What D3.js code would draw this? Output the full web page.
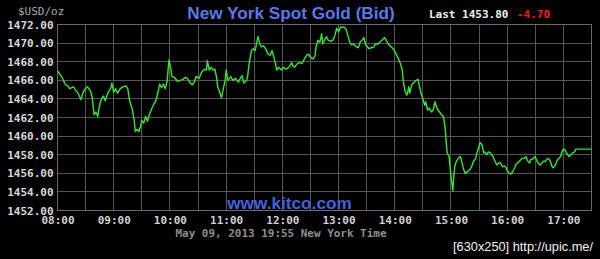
<!DOCTYPE html>
<html>
<head>
<meta charset="utf-8">
<script src="https://cdn.jsdelivr.net/npm/d3@7"></script>
<style>
  html, body { margin: 0; padding: 0; background: #000; }
  svg { display: block; }
</style>
</head>
<body>
<svg id="chart" width="600" height="259"></svg>
<script>
// ---- data: minutes after 08:00 (New York time) and bid price, USD/oz ----
const minutesFrom8 = [
  0,3,5,8,11,13,17,19,22,25,27,29,32,35,37,39,41,43,44,46,49,51,54,57,58,60,62,64,67,70,73,75,77,80,82,83,85,87,89,90,92,94,96,98,100,103,105,107,109,111,113,115,117,119,121,122,125,128,131,134,
  136,139,141,144,146,148,151,154,157,159,160,162,164,166,168,170,171,173,175,177,179,180,182,185,187,190,193,195,197,199,202,203,205,207,209,211,212,214,216,218,220,222,225,227,229,231,233,234,236,239,241,244,247,250,251,253,256,258,261,263,266,268,270,273,
  275,276,278,280,282,283,285,287,289,292,294,296,298,300,302,306,308,310,312,314,316,319,321,323,325,327,329,331,332,335,338,339,342,344,347,349,351,353,356,359,361,364,366,368,369,371,373,375,376,378,380,383,385,386,388,390,392,393,395,397,399,401,403,405,
  407,410,412,414,415,416,417,418,419,420,422,423,424,425,427,430,431,433,435,438,440,442,444,446,448,450,451,453,455,456,458,460,462,463,465,467,469,471,473,475,477,479,480,482,484,486,488,489,491,493,495,496,498,500,502,504,505,507,510,511,513,515,517,519,521,522,524,526,528,529,531,533,535,537,538,540,542,543,544,546,548,550,552,553,570
];
const prices = [
  1467.0,1466.6,1466.3,1465.6,1465.4,1465.1,1465.3,1465.0,1464.6,1463.9,1464.6,1465.0,1465.3,1464.9,1464.2,1462.3,1462.6,1462.1,1462.8,1463.8,1464.3,1463.8,1464.7,1465.2,1465.7,1464.7,1465.1,1464.6,1465.1,1465.3,1465.4,1465.1,1463.8,1462.8,1461.6,1460.5,1460.7,1460.5,1461.2,1461.7,1461.4,1462.1,1461.6,1462.3,1462.8,1463.5,1463.8,1464.6,1465.6,1465.2,1465.6,1465.1,1465.9,1468.2,1467.3,1466.4,1466.3,1465.9,1466.0,1466.1,
  1466.3,1466.2,1465.8,1465.5,1465.8,1466.4,1466.2,1466.9,1467.2,1467.1,1468.1,1467.1,1467.4,1467.1,1467.2,1466.2,1465.3,1464.8,1464.1,1465.1,1466.0,1467.1,1466.0,1466.4,1466.0,1466.2,1465.8,1466.2,1466.5,1465.7,1466.0,1466.5,1468.1,1469.2,1469.4,1469.2,1469.7,1470.7,1469.9,1469.6,1469.7,1469.4,1468.8,1468.7,1469.2,1468.5,1467.6,1467.1,1467.4,1467.1,1467.4,1467.2,1467.4,1467.9,1467.6,1467.4,1467.8,1467.9,1467.8,1468.2,1468.7,1468.8,1468.5,1468.3,
  1468.7,1469.6,1470.3,1470.1,1471.0,1469.9,1470.3,1470.7,1470.3,1470.2,1470.3,1470.8,1471.6,1471.2,1471.7,1471.7,1471.5,1470.8,1470.1,1469.8,1469.9,1469.6,1469.5,1470.1,1470.3,1470.6,1469.8,1469.6,1469.4,1469.5,1469.6,1469.9,1469.9,1470.1,1470.4,1470.6,1470.3,1469.9,1469.6,1469.3,1468.9,1468.3,1467.8,1467.1,1466.0,1464.8,1464.4,1465.3,1464.6,1465.5,1465.7,1466.0,1466.1,1465.5,1464.6,1464.0,1463.3,1463.7,1462.8,1463.0,1462.6,1462.8,1463.7,1463.0,
  1462.7,1462.3,1462.1,1460.7,1459.2,1458.2,1458.0,1457.8,1456.7,1455.7,1454.1,1455.7,1456.7,1457.1,1457.5,1457.8,1457.5,1456.6,1456.0,1456.2,1456.4,1456.7,1457.3,1457.5,1458.3,1458.9,1459.3,1459.1,1458.2,1458.3,1458.0,1458.3,1458.2,1458.0,1457.8,1457.3,1456.9,1457.1,1457.1,1456.7,1456.8,1456.6,1456.3,1456.0,1455.9,1456.2,1456.6,1456.9,1457.1,1457.3,1457.5,1457.6,1457.6,1457.8,1457.3,1457.1,1457.5,1457.5,1457.8,1457.5,1457.1,1456.9,1457.1,1457.3,1457.3,1457.5,1457.6,1457.3,1456.7,1456.6,1456.8,1457.3,1457.6,1457.8,1458.2,1458.6,1458.5,1458.2,1458.1,1457.8,1458.0,1458.2,1458.3,1458.6,1458.6
];
const yTicks = [1452,1454,1456,1458,1460,1462,1464,1466,1468,1470,1472];
const xTickMinutes = [0,60,120,180,240,300,360,420,480,540];
const xTickLabels = ["08:00","09:00","10:00","11:00","12:00","13:00","14:00","15:00","16:00","17:00"];
const xGridMinutes = [30,90,150,210,270,330,390,450,510];
const titleText = "New York Spot Gold (Bid)";
const unitText = "$USD/oz";
const lastLabel = "Last 1453.80";
const changeLabel = "-4.70";
const siteText = "www.kitco.com";
const stampText = "May 09, 2013 19:55 New York Time";
const watermarkText = "[630x250] http://upic.me/";

// ---- drawing ----
const svg = d3.select("#chart");
const mono = "'DejaVu Sans Mono', monospace";
const sans = "'Liberation Sans', Arial, sans-serif";

svg.append("rect").attr("width", 600).attr("height", 259).attr("fill", "#000");

const x = d3.scaleLinear().domain([0, 570]).range([57.5, 591.5]);
const y = d3.scaleLinear().domain([1452, 1472]).range([210.5, 24.5]);

// grid
const grid = svg.append("g");
grid.selectAll("line.h").data(yTicks).join("line")
  .attr("x1", x(0)).attr("x2", x(570))
  .attr("y1", d => Math.round(y(d) - 0.5) + 0.5).attr("y2", d => Math.round(y(d) - 0.5) + 0.5)
  .attr("stroke", "#555").attr("stroke-width", 1);
grid.selectAll("line.v").data(xTickMinutes.concat(xGridMinutes)).join("line")
  .attr("x1", d => Math.round(x(d) - 0.5) + 0.5).attr("x2", d => Math.round(x(d) - 0.5) + 0.5)
  .attr("y1", y(1472)).attr("y2", y(1452))
  .attr("stroke", "#555").attr("stroke-width", 1);
svg.append("rect")
  .attr("x", x(0)).attr("y", y(1472))
  .attr("width", x(570) - x(0)).attr("height", y(1452) - y(1472))
  .attr("fill", "none").attr("stroke", "#6a6a6a");

// y axis labels
const yAxis = d3.axisLeft(y).tickValues(yTicks).tickSize(0).tickPadding(4)
  .tickFormat(d3.format(".2f"));
const gy = svg.append("g").attr("transform", `translate(${x(0)},0)`).call(yAxis);
gy.select(".domain").remove();
gy.selectAll("text").attr("font-family", mono).attr("font-size", 11)
  .attr("font-weight", "bold").attr("fill", "#d8d8d8");

// x axis labels
const xAxis = d3.axisBottom(x).tickValues(xTickMinutes).tickSize(0).tickPadding(6)
  .tickFormat((d, i) => xTickLabels[i]);
const gx = svg.append("g").attr("transform", `translate(0,${y(1452)})`).call(xAxis);
gx.select(".domain").remove();
gx.selectAll("text").attr("font-family", mono).attr("font-size", 11)
  .attr("font-weight", "bold").attr("fill", "#d0d0d0");

// price line
const series = minutesFrom8.map((m, i) => ({ m, v: prices[i] }));
svg.append("path").datum(series)
  .attr("fill", "none").attr("stroke", "#33e633").attr("stroke-width", 1.4)
  .attr("stroke-linejoin", "round")
  .attr("d", d3.line().x(d => x(d.m)).y(d => y(d.v)));

// texts
svg.append("text").attr("x", 18).attr("y", 15).text(unitText)
  .attr("font-family", mono).attr("font-size", 11).attr("fill", "#aaa");
svg.append("text").attr("x", 291).attr("y", 18.5).attr("text-anchor", "middle").text(titleText)
  .attr("font-family", sans).attr("font-weight", "bold").attr("font-size", 17.2).attr("fill", "#5a78e6");
svg.append("text").attr("x", 429).attr("y", 18).text(lastLabel)
  .attr("font-family", mono).attr("font-weight", "bold").attr("font-size", 11).attr("fill", "#f0f0f0");
svg.append("text").attr("x", 517).attr("y", 18).text(changeLabel)
  .attr("font-family", mono).attr("font-weight", "bold").attr("font-size", 11).attr("fill", "#ff1a1a");
svg.append("text").attr("x", 289.5).attr("y", 209).attr("text-anchor", "middle").text(siteText)
  .attr("font-family", sans).attr("font-weight", "bold").attr("font-size", 17.2).attr("fill", "#4262dc");
svg.append("text").attr("x", 175.5).attr("y", 237).text(stampText)
  .attr("font-family", mono).attr("font-weight", "bold").attr("font-size", 10.5).attr("fill", "#8e8e8e")
  .attr("textLength", 211).attr("lengthAdjust", "spacingAndGlyphs");
svg.append("text").attr("x", 453).attr("y", 251).text(watermarkText)
  .attr("font-family", "'Liberation Sans Narrow', 'Liberation Sans', sans-serif").attr("font-size", 13)
  .attr("textLength", 140).attr("lengthAdjust", "spacingAndGlyphs").attr("fill", "#f2f2f2");
</script>
</body>
</html>
